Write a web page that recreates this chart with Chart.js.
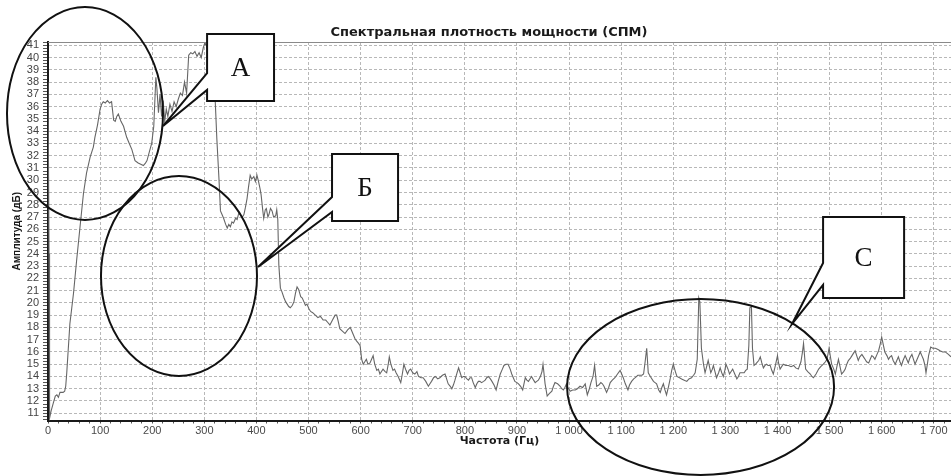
<!DOCTYPE html>
<html><head><meta charset="utf-8">
<script src="https://cdn.jsdelivr.net/npm/chart.js@4/dist/chart.umd.min.js"></script>
<style>html,body{margin:0;padding:0;background:#fff}canvas{display:block}</style>
</head><body>
<canvas id="c" width="951" height="476"></canvas>
<script>
// ---------- data ----------
const freq = [
0,2,3,6,10,14,17,20,23,29,
32,34,36,42,49,55,61,68,74,81,
87,90,95,100,103,106,110,114,118,122,
126,129,132,135,140,145,151,156,161,167,
173,178,183,187,190,195,199,203,207,209,
212,215,218,221,224,227,230,234,238,242,
246,250,254,258,262,266,270,274,278,282,
286,290,294,298,301,304,307,310,314,318,
321,324,328,331,334,337,341,344,347,350,
353,356,360,363,366,369,373,376,379,382,
385,388,391,395,398,401,404,407,409,412,
414,417,419,422,424,427,430,433,437,439,
441,443,446,449,453,456,459,462,465,469,
472,475,478,481,485,488,491,494,497,501,
504,508,513,518,523,528,533,537,541,546,
551,554,557,560,565,570,575,580,583,586,
589,592,596,599,602,605,608,611,614,618,
621,624,627,631,634,637,640,643,647,650,
653,655,658,662,665,668,672,677,680,683,
687,690,693,696,700,704,708,711,716,720,
725,730,733,736,740,743,748,752,757,762,
765,768,772,775,778,781,785,788,791,794,
797,800,804,807,810,813,816,820,823,826,
829,832,836,839,842,845,849,852,856,860,
864,868,872,875,879,883,887,890,893,896,
900,903,907,911,916,919,922,925,928,932,
935,938,941,945,948,950,954,958,962,967,
970,973,978,983,986,989,992,995,998,1002,
1007,1012,1016,1021,1026,1031,1035,1039,1042,1046,
1049,1053,1057,1061,1064,1067,1072,1076,1079,1083,
1088,1093,1098,1101,1104,1108,1113,1116,1120,1124,
1127,1132,1136,1140,1143,1146,1149,1152,1156,1162,
1165,1168,1172,1175,1178,1181,1184,1187,1191,1194,
1197,1200,1204,1207,1212,1216,1221,1226,1230,1235,
1239,1242,1246,1249,1251,1254,1258,1261,1264,1267,
1270,1272,1275,1277,1280,1283,1287,1290,1293,1296,
1299,1301,1305,1308,1311,1314,1318,1322,1325,1328,
1332,1336,1339,1342,1345,1347,1350,1352,1355,1358,
1360,1364,1367,1370,1373,1376,1379,1382,1386,1389,
1392,1396,1400,1402,1405,1408,1411,1416,1421,1426,
1431,1435,1440,1445,1448,1450,1454,1458,1463,1466,
1469,1474,1479,1483,1488,1492,1495,1499,1502,1504,
1508,1511,1514,1517,1520,1523,1527,1530,1533,1536,
1540,1543,1546,1549,1552,1555,1558,1562,1565,1568,
1571,1575,1578,1581,1584,1587,1591,1594,1597,1600,
1603,1606,1610,1613,1616,1619,1622,1626,1629,1632,
1635,1638,1641,1645,1648,1651,1654,1658,1661,1664,
1669,1674,1677,1680,1683,1685,1688,1690,1694,1698,
1703,1708,1712,1717,1722,1725,1728,1733
];
const amp = [
38.0,24.0,10.6,11.2,11.8,12.4,12.5,12.3,12.7,12.7,
12.8,13.2,14.3,18.3,20.8,23.5,26.0,28.9,30.6,31.9,
32.7,33.5,34.5,35.8,36.2,36.4,36.3,36.5,36.3,36.4,
34.9,34.8,35.2,35.4,34.8,34.4,33.5,33.0,32.5,31.6,
31.4,31.3,31.2,31.4,31.6,32.4,33.0,34.4,38.4,37.5,
35.5,37.0,35.2,36.5,34.8,35.8,35.2,36.2,35.6,36.4,
36.0,36.6,37.1,36.9,38.0,37.1,40.2,40.4,40.3,40.5,
40.1,40.4,40.0,40.8,41.2,41.0,40.5,40.0,39.0,37.5,
36.4,33.4,30.2,27.5,27.2,26.9,26.4,26.1,26.4,26.2,
26.6,26.5,26.9,26.8,27.3,27.2,27.0,27.2,27.8,28.5,
29.5,30.4,30.1,30.3,29.9,30.4,29.9,29.3,28.8,27.6,
26.9,27.6,27.7,27.0,27.2,27.7,27.5,27.0,27.1,27.6,
26.8,23.1,21.2,20.9,20.4,20.1,19.9,19.7,19.6,19.8,
20.1,20.8,21.3,21.1,20.5,20.4,20.1,19.8,19.9,19.5,
19.3,19.2,19.0,18.8,18.9,18.6,18.6,18.4,18.2,18.6,
19.0,19.0,18.5,17.9,17.7,17.5,17.8,18.0,17.7,17.4,
17.1,16.9,16.7,16.5,15.4,15.0,15.2,15.4,15.0,15.1,
15.4,15.7,15.0,14.5,14.6,14.2,14.4,14.6,14.4,14.3,
15.0,15.6,15.0,14.5,14.6,14.3,14.0,13.5,14.2,15.0,
14.5,14.2,14.5,14.6,14.3,14.2,14.4,14.0,13.9,13.9,
13.6,13.2,13.4,13.6,13.9,14.0,13.8,13.9,14.1,14.2,
13.8,13.4,13.2,13.0,13.3,13.7,14.3,14.7,14.3,13.9,
14.0,14.0,13.8,13.7,13.9,13.9,13.5,13.1,13.4,13.6,
13.6,13.5,13.6,13.7,13.9,14.0,13.8,13.6,13.3,12.9,
13.6,14.2,14.6,14.9,15.0,15.0,14.6,14.2,13.9,13.6,
13.5,13.4,13.2,12.9,13.9,13.7,13.6,13.8,14.0,13.7,
13.5,13.6,13.7,14.0,14.4,15.0,13.4,12.4,12.6,12.8,
13.2,13.5,13.4,13.2,13.0,12.9,13.1,13.4,13.1,12.8,
12.9,12.9,13.0,13.2,13.1,13.4,12.5,13.0,13.5,14.0,
14.9,13.2,13.3,13.5,13.4,13.2,12.7,13.1,13.5,13.7,
13.9,14.2,14.5,14.2,13.9,13.4,12.9,13.3,13.6,13.8,
13.9,14.1,14.1,14.1,14.2,15.2,16.3,14.3,14.0,13.6,
13.5,13.4,12.9,12.7,13.1,13.4,12.9,12.5,13.2,13.8,
14.5,15.0,14.4,14.0,13.9,13.8,13.7,13.6,13.8,13.9,
14.1,14.3,15.4,20.4,20.1,16.3,15.0,14.3,14.8,15.3,
14.7,14.3,14.6,14.9,14.4,13.9,14.3,14.7,14.3,14.0,
14.5,15.0,14.6,14.2,14.4,14.6,14.2,13.8,14.0,14.3,
14.3,14.3,14.5,14.6,16.5,19.6,19.7,16.3,14.9,15.0,
15.1,15.3,15.6,15.1,14.7,14.9,15.0,14.9,14.9,14.5,
14.2,14.9,15.7,15.1,14.6,14.8,15.0,14.9,14.9,14.8,
14.9,14.7,14.6,15.2,16.0,16.7,14.6,14.4,14.2,14.0,
13.9,14.2,14.6,14.8,15.0,15.2,15.4,16.3,15.5,15.0,
14.6,14.2,14.8,15.4,14.8,14.2,14.4,14.6,15.0,15.3,
15.5,15.7,15.9,16.1,15.7,15.3,15.6,15.8,15.6,15.4,
15.2,15.1,15.4,15.7,15.6,15.4,15.8,16.1,16.6,17.2,
16.6,16.0,15.7,15.4,15.6,15.7,15.3,15.0,15.3,15.6,
15.2,14.9,15.3,15.7,15.4,15.1,15.5,15.8,15.4,15.0,
15.5,16.0,15.7,15.4,14.9,14.3,15.1,15.7,16.4,16.3,
16.3,16.2,16.1,16.0,16.0,15.9,15.8,15.6
];
const xTickValues = [0,100,200,300,400,500,600,700,800,900,1000,1100,1200,1300,1400,1500,1600,1700];
const yTickValues = [11,12,13,14,15,16,17,18,19,20,21,22,23,24,25,26,27,28,29,30,31,32,33,34,35,36,37,38,39,40,41];
const titleText = 'Спектральная плотность мощности (СПМ)';
const xTitle = 'Частота (Гц)';
const yTitle = 'Амплитуда (дБ)';

// ---------- axis ranges ----------
const X_MIN = 0, X_MAX = 1733, Y_MIN = 10.41, Y_MAX = 41.27;
const X_MINOR = 20, Y_MINOR = 0.25;

// ---------- annotations (in data units) ----------
const ellipseDefs = [
  {cx: 71,     cy: 35.44, rx: 149.7, ry: 8.68},
  {cx: 251.4,  cy: 22.19, rx: 149.7, ry: 8.15},
  {cx: 1252.4, cy: 13.14, rx: 256.2, ry: 7.17}
];
const calloutDefs = [
  {label: 'А', x0: 305.3,  x1: 433.8, y0: 36.46, y1: 41.92, by0: 38.74, by1: 37.36, tx: 220.7, ty: 34.42},
  {label: 'Б', x0: 545.1,  x1: 671.8, y0: 26.68, y1: 32.14, by0: 28.63, by1: 27.41, tx: 403.1, ty: 22.93},
  {label: 'С', x0: 1487.5, x1: 1643,  y0: 20.40, y1: 27.00, by0: 23.25, by1: 21.46, tx: 1428,  ty: 18.28}
];

function fmt(v){ return String(v).replace(/\B(?=(\d{3})+(?!\d))/g, ' '); }

const overlay = {
  id: 'overlay',
  afterDraw(chart) {
    const {ctx, chartArea, scales} = chart;
    const xs = scales.x, ys = scales.y;
    const px = v => xs.getPixelForValue(v), py = v => ys.getPixelForValue(v);
    ctx.save();
    // top frame line
    ctx.strokeStyle = '#8a8a8a'; ctx.lineWidth = 1;
    ctx.beginPath(); ctx.moveTo(chartArea.left, chartArea.top + 0.5); ctx.lineTo(chartArea.right, chartArea.top + 0.5); ctx.stroke();
    // title
    ctx.fillStyle = '#1a1a1a';
    ctx.font = 'bold 13px "DejaVu Sans"';
    ctx.textAlign = 'center'; ctx.textBaseline = 'middle';
    ctx.fillText(titleText, 489, 33);
    // ellipses
    ctx.strokeStyle = '#111'; ctx.lineWidth = 2;
    ellipseDefs.forEach(e => {
      const cx = px(e.cx), cy = py(e.cy);
      const rx = px(e.cx + e.rx) - cx, ry = cy - py(e.cy + e.ry);
      ctx.beginPath(); ctx.ellipse(cx, cy, rx, ry, 0, 0, Math.PI * 2); ctx.stroke();
    });
    // callouts
    calloutDefs.forEach(c => {
      const L = px(c.x0), R = px(c.x1), T = py(c.y1), B = py(c.y0);
      ctx.beginPath();
      ctx.moveTo(L, T); ctx.lineTo(R, T); ctx.lineTo(R, B); ctx.lineTo(L, B);
      ctx.lineTo(L, py(c.by1)); ctx.lineTo(px(c.tx), py(c.ty)); ctx.lineTo(L, py(c.by0));
      ctx.closePath();
      ctx.fillStyle = '#fff'; ctx.fill();
      ctx.strokeStyle = '#111'; ctx.lineWidth = 2; ctx.lineJoin = 'miter'; ctx.stroke();
      ctx.fillStyle = '#111';
      ctx.font = '27px "Liberation Serif"';
      ctx.textAlign = 'center'; ctx.textBaseline = 'middle';
      ctx.fillText(c.label, (L + R) / 2, (T + B) / 2 + 1);
    });
    ctx.restore();
  }
};

new Chart(document.getElementById('c'), {
  type: 'line',
  data: {
    datasets: [{
      data: freq.map((f, i) => ({x: f, y: amp[i]})),
      borderColor: '#666666', borderWidth: 1.1, pointRadius: 0, tension: 0, fill: false
    }]
  },
  options: {
    responsive: false, animation: false,
    layout: {padding: {top: 42, right: 0, bottom: 0, left: 0}},
    plugins: {legend: {display: false}, title: {display: false}, tooltip: {enabled: false}},
    scales: {
      x: {
        type: 'linear', min: X_MIN, max: X_MAX,
        afterBuildTicks(s) { const t = []; for (let v = X_MIN; v <= X_MAX; v += X_MINOR) t.push({value: v}); s.ticks = t; },
        ticks: {autoSkip: false, maxRotation: 0, minRotation: 0, padding: 1,
          callback: v => xTickValues.includes(v) ? fmt(v) : '',
          font: {family: 'Liberation Sans', size: 11}, color: '#4a4a4a'},
        grid: {color: c => (c.tick && c.tick.value % 100 === 0) ? '#b8b8b8' : 'rgba(0,0,0,0)', tickColor: '#555', tickLength: 3, lineWidth: 1},
        border: {display: true, color: '#1a1a1a', width: 2, dash: [3, 2]},
        title: {display: true, text: xTitle, color: '#1a1a1a', font: {family: 'DejaVu Sans', size: 11, weight: 'bold'}, padding: {top: 0, bottom: 28}},
        afterFit(s) { s.height = 55.5; s.paddingLeft = 0; s.paddingRight = 0; }
      },
      y: {
        type: 'linear', min: Y_MIN, max: Y_MAX,
        afterBuildTicks(s) { const t = []; for (let v = 10.5; v <= Y_MAX; v += Y_MINOR) t.push({value: v}); s.ticks = t; },
        ticks: {autoSkip: false, padding: 4,
          callback: v => yTickValues.includes(v) ? String(v) : '',
          font: {family: 'Liberation Sans', size: 11}, color: '#444'},
        grid: {color: c => (c.tick && Number.isInteger(c.tick.value)) ? '#b8b8b8' : 'rgba(0,0,0,0)', tickColor: '#555', tickLength: 5, lineWidth: 1},
        border: {display: true, color: '#1a1a1a', width: 2, dash: [3, 2]},
        title: {display: true, text: yTitle, color: '#1a1a1a', font: {family: 'Liberation Sans', size: 10, weight: 'bold'}, padding: {top: 11, bottom: 0}},
        afterFit(s) { s.width = 48; s.paddingTop = 0; s.paddingBottom = 0; }
      }
    }
  },
  plugins: [overlay]
});
</script>
</body></html>
